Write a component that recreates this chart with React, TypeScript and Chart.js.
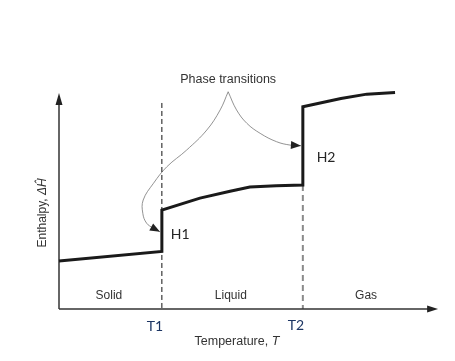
import React, { useEffect, useRef } from "react";
import { Chart, registerables } from "chart.js";
Chart.register(...registerables);

// ---- data (temperature units on x, enthalpy units on y) ----
const T1 = 27;
const T2 = 64;
const AXIS_X_END = 99.5;
const AXIS_Y_END = 90.4;

const curveT = [0, 27, 27, 37, 44.9, 50.1, 57, 64, 64, 74, 80.8, 88.2];
const curveH = [20.1, 24.1, 41.4, 46.4, 49.3, 51.0, 51.6, 51.9, 84.6, 88.1, 89.9, 90.6];

const t1DashH = [86.2, 0];
const t2DashH = [51.9, 0];

const leftArrowT = [44.4, 42.3, 38.8, 33.5, 28.3, 24.8, 22.1, 22.0, 23.0, 24.8, 26.5];
const leftArrowH = [90.9, 83.3, 74.9, 66.5, 59.5, 52.6, 45.6, 40.0, 35.9, 33.8, 32.3];
const rightArrowT = [44.4, 46.6, 49.3, 52.8, 57.1, 60.6, 63.5];
const rightArrowH = [90.9, 83.3, 77.7, 73.5, 70.0, 68.6, 68.3];

const phaseNames = ["Solid", "Liquid", "Gas"];
const phaseLabelT = [13.1, 45.1, 80.6];
const phaseLabelH = 5.4;

const tickNames = ["T1", "T2"];
const tickLabelT = [25.2, 62.2];
const tickLabelH = [-7.5, -6.7];

const jumpNames = ["H1", "H2"];
const jumpLabelT = [31.8, 70.1];
const jumpLabelH = [31.0, 63.2];

const pts = (xs: number[], ys: number[]) => xs.map((x, i) => ({ x, y: ys[i] }));

const SANS = "'Liberation Sans', Arial, sans-serif";

function arrowHead(ctx: CanvasRenderingContext2D, x: number, y: number, ang: number, len: number, hw: number, color: string) {
  ctx.save();
  ctx.translate(x, y);
  ctx.rotate(ang);
  ctx.beginPath();
  ctx.moveTo(0, 0);
  ctx.lineTo(-len, -hw);
  ctx.lineTo(-len, hw);
  ctx.closePath();
  ctx.fillStyle = color;
  ctx.fill();
  ctx.restore();
}

const decor = {
  id: "decor",
  afterDatasetsDraw(chart: any) {
    const ctx: CanvasRenderingContext2D = chart.ctx;
    const xs = chart.scales.x;
    const ys = chart.scales.y;
    const px = (v: number) => xs.getPixelForValue(v);
    const py = (v: number) => ys.getPixelForValue(v);

    // axis arrows
    arrowHead(ctx, px(0), py(AXIS_Y_END), -Math.PI / 2, 12, 3.5, "#222");
    arrowHead(ctx, px(AXIS_X_END), py(0), 0, 11, 3.5, "#222");

    // annotation arrows
    const endArrow = (T: number[], H: number[]) => {
      const n = T.length;
      const x1 = px(T[n - 2]), y1 = py(H[n - 2]);
      const x2 = px(T[n - 1]), y2 = py(H[n - 1]);
      arrowHead(ctx, x2, y2, Math.atan2(y2 - y1, x2 - x1), 10, 4, "#222");
    };
    endArrow(leftArrowT, leftArrowH);
    endArrow(rightArrowT, rightArrowH);

    ctx.save();
    ctx.textAlign = "center";
    ctx.textBaseline = "middle";

    ctx.fillStyle = "#333";
    ctx.font = "12.5px " + SANS;
    ctx.fillText("Phase transitions", px(44.4), py(96.2));

    ctx.font = "12px " + SANS;
    phaseNames.forEach((n, i) => ctx.fillText(n, px(phaseLabelT[i]), py(phaseLabelH)));

    const mixed = (a: string, b: string, cx: number, cy: number, size: number) => {
      ctx.font = size + "px " + SANS;
      const wa = ctx.measureText(a).width;
      ctx.font = "italic " + size + "px " + SANS;
      const wb = ctx.measureText(b).width;
      const start = cx - (wa + wb) / 2;
      ctx.textAlign = "left";
      ctx.font = size + "px " + SANS;
      ctx.fillText(a, start, cy);
      ctx.font = "italic " + size + "px " + SANS;
      ctx.fillText(b, start + wa, cy);
      ctx.textAlign = "center";
    };
    mixed("Temperature, ", "T", px(46.7), py(-13.8), 12.5);
    ctx.save();
    ctx.translate(px(-4.2), py(40.2));
    ctx.rotate(-Math.PI / 2);
    mixed("Enthalpy, ", "\u0394\u0124", 0, 0, 12);
    ctx.restore();

    ctx.font = "14px Lato, 'Open Sans', sans-serif";
    ctx.fillStyle = "#1c3563";
    tickNames.forEach((n, i) => ctx.fillText(n, px(tickLabelT[i]), py(tickLabelH[i])));
    ctx.fillStyle = "#262626";
    jumpNames.forEach((n, i) => ctx.fillText(n, px(jumpLabelT[i]), py(jumpLabelH[i])));
    ctx.restore();
  },
};

export default function App() {
  const ref = useRef<HTMLCanvasElement>(null);
  useEffect(() => {
    if (!ref.current) return;
    const line = (data: any[], extra: any) => ({
      data,
      showLine: true,
      pointRadius: 0,
      clip: false,
      ...extra,
    });
    const chart = new Chart(ref.current, {
      type: "scatter",
      data: {
        datasets: [
          line(pts(curveT, curveH), { borderColor: "#1a1a1a", borderWidth: 3, borderJoinStyle: "miter", order: 0 }),
          line(pts([T1, T1], t1DashH), { borderColor: "#111", borderWidth: 1, borderDash: [5, 3], order: 2 }),
          line(pts([T2, T2], t2DashH), { borderColor: "#8a8a8a", borderWidth: 2, borderDash: [6, 4], order: 2 }),
          line(pts([0, 0], [0, AXIS_Y_END - 3]), { borderColor: "#333", borderWidth: 1.5, order: 1 }),
          line(pts([0, AXIS_X_END - 2], [0, 0]), { borderColor: "#333", borderWidth: 1.5, order: 1 }),
          line(pts(leftArrowT, leftArrowH), { borderColor: "#777", borderWidth: 0.8, tension: 0.4, order: 3 }),
          line(pts(rightArrowT, rightArrowH), { borderColor: "#777", borderWidth: 0.8, tension: 0.4, order: 3 }),
        ],
      },
      options: {
        responsive: false,
        animation: false,
        devicePixelRatio: 1,
        layout: { padding: { left: 59, top: 70, right: 15, bottom: 52 } },
        plugins: { legend: { display: false }, tooltip: { enabled: false }, title: { display: false } },
        scales: {
          x: { type: "linear", min: 0, max: 100, display: false },
          y: { type: "linear", min: 0, max: 100, display: false },
        },
      },
      plugins: [decor],
    });
    return () => chart.destroy();
  }, []);
  return (
    <div style={{ position: "absolute", left: 0, top: 0, width: 455, height: 361, background: "#fff" }}>
      <canvas ref={ref} width={455} height={361} />
    </div>
  );
}
